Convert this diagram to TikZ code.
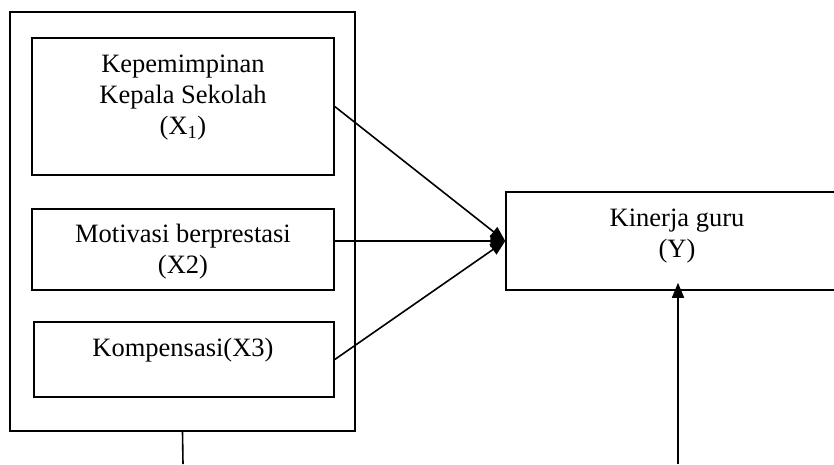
\documentclass[tikz,border=0pt]{standalone}
\usepackage{fontspec}
\setmainfont{Liberation Serif}
\usetikzlibrary{arrows.meta}
\begin{document}
\begin{tikzpicture}[x=1pt,y=-1pt,
  box/.style={draw, line width=1.5pt, inner sep=0pt},
  lbl/.style={align=center, inner sep=0pt, anchor=north, font=\fontsize{26.5}{31}\selectfont},
  conn/.style={line width=1.6pt, -{Triangle[length=15pt,width=12pt]}},
  plain/.style={line width=1.6pt}]
\useasboundingbox (0,0) rectangle (834,464);
% boxes
\node[box, minimum width=345pt, minimum height=419pt] (outer) at (182.5,221.5) {};
\node[box, minimum width=302pt, minimum height=137pt] (x1) at (183,106.5) {};
\node[box, minimum width=302pt, minimum height=81pt] (x2) at (183,249.5) {};
\node[box, minimum width=300pt, minimum height=75pt] (x3) at (184,359.5) {};
\node[box, minimum width=344pt, minimum height=98pt] (y) at (678,241) {};
% labels
\node[lbl] (x1t) at (183,55) {Kepemimpinan\\Kepala Sekolah\\(X\textsubscript{1})};
\node[lbl] (x2t) at (183,224) {Motivasi berprestasi\\(X2)};
\node[lbl] (x3t) at (183,338) {Kompensasi(X3)};
\node[lbl] (yt) at (677,209) {Kinerja guru\\(Y)};
% connectors
\coordinate (obot) at (183,464);
\coordinate (ybot) at (678,464);
\draw[plain] (outer.south) -- (obot);
\draw[conn] (x1.east) -- (y.west);
\draw[conn] (x2.east |- y.west) -- (y.west);
\draw[conn] (x3.east) -- (y.west);
\draw[conn, shorten >=-8pt] (ybot) -- (y.south);
\end{tikzpicture}
\end{document}
